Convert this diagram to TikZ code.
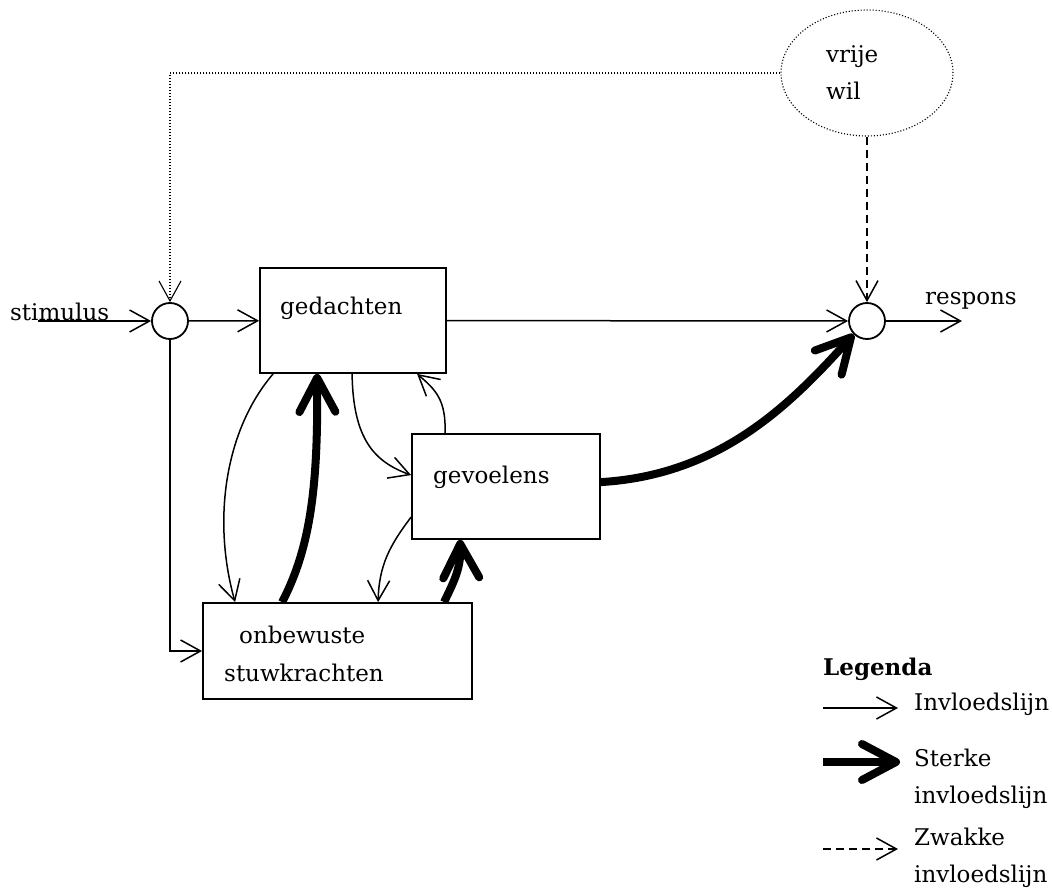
\documentclass[tikz,border=0pt]{standalone}
\usepackage{fontspec}
\setmainfont{DejaVu Serif}
\usetikzlibrary{arrows.meta,positioning,calc,shapes.geometric,fit}

\begin{document}
\begin{tikzpicture}[
        x=1pt,y=-1pt,
        font=\fontsize{23}{37}\selectfont,
        box/.style={draw,line width=1.8pt,inner sep=0pt},
        junction/.style={circle,draw,line width=1.8pt,minimum size=36pt,inner sep=0pt},
        txt/.style={inner sep=0pt,anchor=base west,align=left},
        infl/.style={-{Straight Barb[length=20pt,width=22pt]},line width=1.5pt},
        strong/.style={-{Straight Barb[length=34pt,width=36pt,round]},line width=8pt},
        weak/.style={infl,dash pattern=on 8pt off 5pt},
        will/.style={line width=1.1pt,dash pattern=on 1.1pt off 1.9pt}
      ]
        \useasboundingbox (0,0) rectangle (1052,893);
        % blokken
        \node[box,fit={(260,268) (446,373)}] (ged) {};
        \node[box,fit={(412,434) (600,539)}] (gev) {};
        \node[box,fit={(203,603) (472,699)}] (onb) {};
        \node[junction] (cin) at (170,321) {};
        \node[junction] (cout) at (867,321) {};
        \node[ellipse,draw,will,minimum width=172pt,minimum height=126pt,inner sep=0pt] (wil) at (867,73) {};
        % teksten
        \node[txt] (tged) at (280,315) {gedachten};
        \node[txt] (tgev) at (433,483) {gevoelens};
        \node[txt] (tonb) at (239,643) {onbewuste};
        \node[txt] (tstu) at (224,681) {stuwkrachten};
        \node[txt] (tvri) at (826,63) {vrije};
        \node[txt] (twil) at (826,100) {wil};
        \node[txt] (tstim) at (10,320) {stimulus};
        \node[txt] (tresp) at (925,305) {respons};
        \coordinate (stim) at (38,321);
        \coordinate (resp) at (962,321);
        % verbindingen
        \draw[infl] (stim)--(cin);
        \draw[infl] (cin)--(ged);
        \draw[infl] (ged)--(cout);
        \draw[infl] (cout)--(resp);
        \draw[infl] (cin.south) |- (onb.west);
        \draw[will,-{Straight Barb[length=20pt,width=22pt]}] (wil.west) -| (cin.north);
        \draw[weak] (wil.south) -- (cout.north);
        \draw[infl] ($(ged.south west)+(14,0)$) .. controls (225,430) and (212,520) .. ($(onb.north west)+(33,0)$);
        \draw[strong] ($(onb.north west)+(80,0)$) .. controls (312,545) and (318,480) .. ($(ged.south west)+(58,0)$);
        \draw[infl] ($(ged.south west)+(93,0)$) .. controls (353,440) and (375,462) .. ($(gev.north west)+(0,42)$);
        \draw[infl] ($(gev.north west)+(34,0)$) .. controls (446,400) and (436,390) .. ($(ged.south west)+(158,0)$);
        \draw[infl] ($(gev.north west)+(0,84)$) .. controls (390,545) and (379,565) .. ($(onb.north west)+(176,0)$);
        \draw[strong] ($(onb.north west)+(242,0)$) .. controls (452,585) and (461,570) .. ($(gev.south west)+(49,0)$);
        \draw[strong] ($(gev.north east)+(0,49)$) .. controls (720,475) and (790,405) .. (cout.225);
        % legenda
        \node[txt,font=\fontsize{23}{37}\selectfont\bfseries] (leg) at (823,675) {Legenda};
        \coordinate (l1a) at (823,708);
        \coordinate (l1b) at (898,708);
        \coordinate (l2a) at (823,762);
        \coordinate (l2b) at (900,762);
        \coordinate (l3a) at (823,849);
        \coordinate (l3b) at (898,849);
        \draw[infl] (l1a)--(l1b);
        \draw[strong] (l2a)--(l2b);
        \draw[weak] (l3a)--(l3b);
        \node[txt] (t1) at (914,710) {Invloedslijn};
        \node[txt] (t2) at (914,803) {Sterke\\invloedslijn};
        \node[txt] (t3) at (914,882) {Zwakke\\invloedslijn};
      \end{tikzpicture}
\end{document}
